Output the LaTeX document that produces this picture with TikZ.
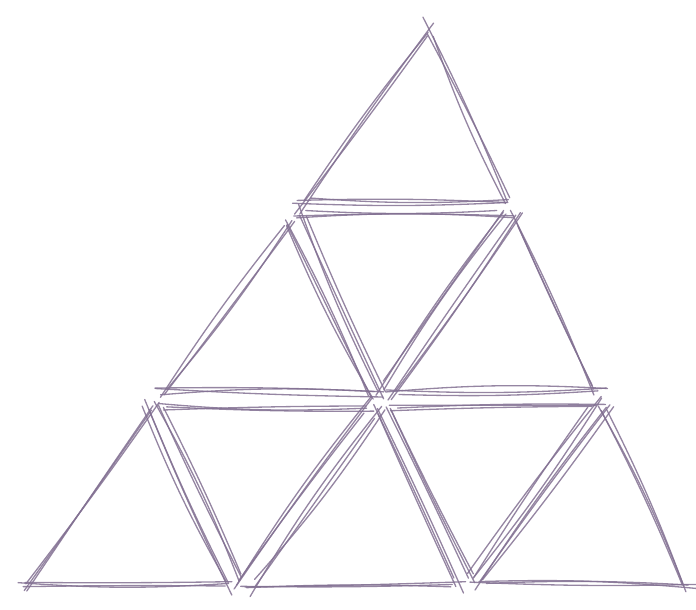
\documentclass[tikz,border=0pt]{standalone}
\usetikzlibrary{calc}
\definecolor{pencil}{RGB}{130,112,146}
\tikzset{
  stroke/.style={
    draw=pencil,
    line width=0.75pt,
    line cap=round,
    draw opacity=0.85
  }
}
\newcommand\shrink{0.89}
% one side, a few loose pencil strokes
\newcommand\sketchside[2]{%
  \foreach \k in {1,2,3}{%
    \pgfmathsetmacro\bend{4*rand}%
    \pgfmathsetmacro\ovA{-0.02+0.05*rand}%
    \pgfmathsetmacro\ovB{1.02+0.05*rand}%
    \draw[stroke] ($(#1)!\ovA!(#2)+(4*rand,4*rand)$)
      to[bend left=\bend] ($(#1)!\ovB!(#2)+(4*rand,4*rand)$);
  }}
% one small triangle, pulled in a little round its centre
\newcommand\sketchtri[3]{%
  \coordinate (m) at ($0.3333*(#1)+0.3333*(#2)+0.3334*(#3)$);
  \coordinate (t1) at ($(m)!\shrink!(#1)$);
  \coordinate (t2) at ($(m)!\shrink!(#2)$);
  \coordinate (t3) at ($(m)!\shrink!(#3)$);
  \sketchside{t1}{t2}\sketchside{t2}{t3}\sketchside{t3}{t1}}

\begin{document}
\begin{tikzpicture}[x=0.02cm, y=-0.02cm]
  \useasboundingbox (0,0) rectangle (696,609);
  \pgfmathsetseed{12}
  % lattice points, row by row from the apex
  \coordinate (a)  at (430,14);
  \coordinate (b1) at (292,207);
  \coordinate (b2) at (517,207);
  \coordinate (c1) at (150,399);
  \coordinate (c2) at (379,401);
  \coordinate (c3) at (607,399);
  \coordinate (d1) at (12,592);
  \coordinate (d2) at (240,592);
  \coordinate (d3) at (468,590);
  \coordinate (d4) at (696,594);
  % upward triangles
  \foreach \p/\q/\r in {a/b1/b2, b1/c1/c2, b2/c2/c3, c1/d1/d2, c2/d2/d3, c3/d3/d4}
    \sketchtri{\p}{\q}{\r};
  % downward triangles in between
  \foreach \p/\q/\r in {b1/b2/c2, c1/c2/d2, c2/c3/d3}
    \sketchtri{\p}{\q}{\r};
\end{tikzpicture}
\end{document}
